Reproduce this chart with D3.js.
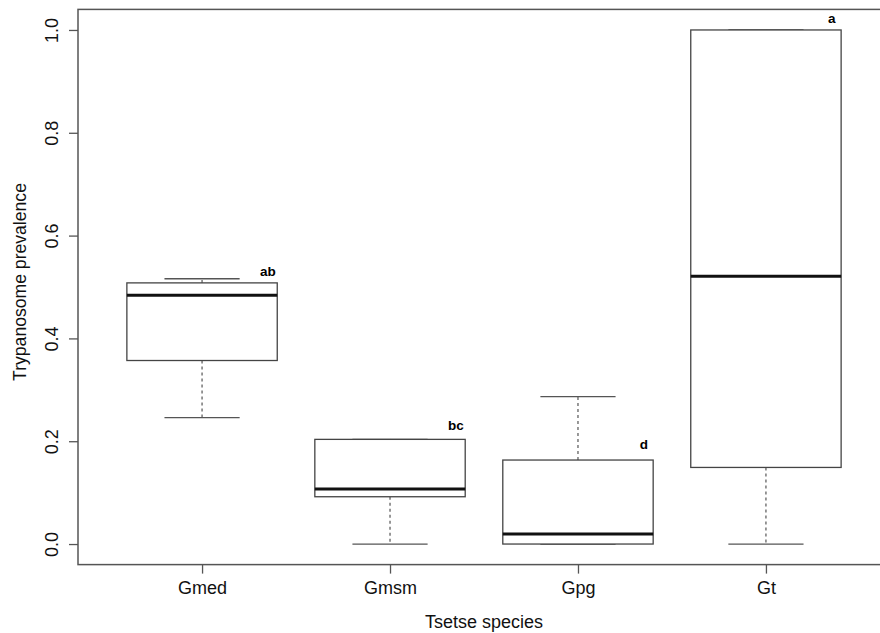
<!DOCTYPE html>
<html>
<head>
<meta charset="utf-8">
<script src="https://cdn.jsdelivr.net/npm/d3@7"></script>
<style>
  body { margin: 0; background: #fff; }
  svg { display: block; font-family: "Liberation Sans", Arial, sans-serif; }
</style>
</head>
<body>
<div id="chart"></div>
<script>
// boxplot stats
var species = ["Gmed", "Gmsm", "Gpg", "Gt"];
var lowerWhisker = [0.246, 0.0, 0.0, 0.0];
var q1 = [0.357, 0.092, 0.0, 0.149];
var median = [0.484, 0.107, 0.0195, 0.521];
var q3 = [0.508, 0.2036, 0.1634, 1.0];
var upperWhisker = [0.516, 0.2036, 0.2866, 1.0];
var groupLetters = ["ab", "bc", "d", "a"];
var letterY = [0.531, 0.231, 0.195, 1.022];
var yTicks = [0, 0.2, 0.4, 0.6, 0.8, 1.0];

var W = 880, H = 633;
var plot = { left: 78, top: 9.4, right: 890, bottom: 564.6 };

var svg = d3.select("#chart").append("svg")
  .attr("width", W)
  .attr("height", H);

// R style: xlim 0.5..4.5 and ylim extended by 4%
var x = d3.scaleLinear().domain([0.34, 4.66]).range([plot.left, plot.right]);
var y = d3.scaleLinear().domain([-0.04, 1.04]).range([plot.bottom, plot.top]);

var data = species.map(function (s, i) {
  return {
    name: s, pos: i + 1,
    lo: lowerWhisker[i], q1: q1[i], med: median[i], q3: q3[i], hi: upperWhisker[i],
    letter: groupLetters[i], ly: letterY[i]
  };
});

var boxes = svg.append("g").selectAll("g")
  .data(data)
  .enter()
  .append("g");

// whiskers (dashed)
boxes.append("line")
  .attr("x1", d => x(d.pos)).attr("x2", d => x(d.pos))
  .attr("y1", d => y(d.q3)).attr("y2", d => y(d.hi))
  .attr("stroke", "#555").attr("stroke-width", 1.2)
  .attr("stroke-dasharray", "3,3");
boxes.append("line")
  .attr("x1", d => x(d.pos)).attr("x2", d => x(d.pos))
  .attr("y1", d => y(d.q1)).attr("y2", d => y(d.lo))
  .attr("stroke", "#555").attr("stroke-width", 1.2)
  .attr("stroke-dasharray", "3,3");

// staples
boxes.append("line")
  .attr("x1", d => x(d.pos - 0.2)).attr("x2", d => x(d.pos + 0.2))
  .attr("y1", d => y(d.hi)).attr("y2", d => y(d.hi))
  .attr("stroke", "#555").attr("stroke-width", 1.3);
boxes.append("line")
  .attr("x1", d => x(d.pos - 0.2)).attr("x2", d => x(d.pos + 0.2))
  .attr("y1", d => y(d.lo)).attr("y2", d => y(d.lo))
  .attr("stroke", "#555").attr("stroke-width", 1.3);

// boxes
boxes.append("rect")
  .attr("x", d => x(d.pos - 0.4))
  .attr("width", d => x(d.pos + 0.4) - x(d.pos - 0.4))
  .attr("y", d => y(d.q3))
  .attr("height", d => y(d.q1) - y(d.q3))
  .attr("fill", "white")
  .attr("stroke", "#444").attr("stroke-width", 1.3);

// medians
boxes.append("line")
  .attr("x1", d => x(d.pos - 0.4)).attr("x2", d => x(d.pos + 0.4))
  .attr("y1", d => y(d.med)).attr("y2", d => y(d.med))
  .attr("stroke", "#111").attr("stroke-width", 3);

// significance letters
boxes.append("text")
  .attr("x", d => x(d.pos + 0.35))
  .attr("y", d => y(d.ly))
  .attr("dy", "0.35em")
  .attr("text-anchor", "middle")
  .style("font-size", "13.5px")
  .style("font-weight", "bold")
  .text(d => d.letter);

// frame
svg.append("rect")
  .attr("x", plot.left).attr("y", plot.top)
  .attr("width", plot.right - plot.left)
  .attr("height", plot.bottom - plot.top)
  .attr("fill", "none")
  .attr("stroke", "#555").attr("stroke-width", 1.5);

// y axis
var yAxis = svg.append("g")
  .attr("transform", "translate(" + plot.left + ",0)")
  .call(d3.axisLeft(y).tickValues(yTicks).tickSize(9).tickFormat(d3.format(".1f")));
yAxis.select(".domain").remove();
yAxis.selectAll(".tick line").attr("stroke", "#555").attr("stroke-width", 1.3);
yAxis.selectAll(".tick text")
  .attr("x", null).attr("dy", null)
  .attr("transform", "translate(-26,0) rotate(-90)")
  .attr("text-anchor", "middle")
  .attr("dominant-baseline", "central")
  .style("font-size", "18px")
  .style("font-family", "Liberation Sans, Arial, sans-serif")
  .attr("fill", "#111");

// x axis
var xAxis = svg.append("g")
  .attr("transform", "translate(0," + plot.bottom + ")")
  .call(d3.axisBottom(x).tickValues(data.map(d => d.pos)).tickSize(9)
    .tickFormat((d, i) => species[i]));
xAxis.select(".domain").remove();
xAxis.selectAll(".tick line").attr("stroke", "#555").attr("stroke-width", 1.3);
xAxis.selectAll(".tick text")
  .attr("y", 23).attr("dy", "0.35em")
  .style("font-size", "18px")
  .style("font-family", "Liberation Sans, Arial, sans-serif")
  .attr("fill", "#111");

// axis titles
svg.append("text")
  .attr("x", (plot.left + plot.right) / 2)
  .attr("y", 622)
  .attr("dy", "0.35em")
  .attr("text-anchor", "middle")
  .style("font-size", "18px")
  .attr("fill", "#111")
  .text("Tsetse species");

svg.append("text")
  .attr("transform", "translate(20,282) rotate(-90)")
  .attr("dy", "0.35em")
  .attr("text-anchor", "middle")
  .style("font-size", "17.6px")
  .attr("fill", "#111")
  .text("Trypanosome prevalence");
</script>
</body>
</html>
